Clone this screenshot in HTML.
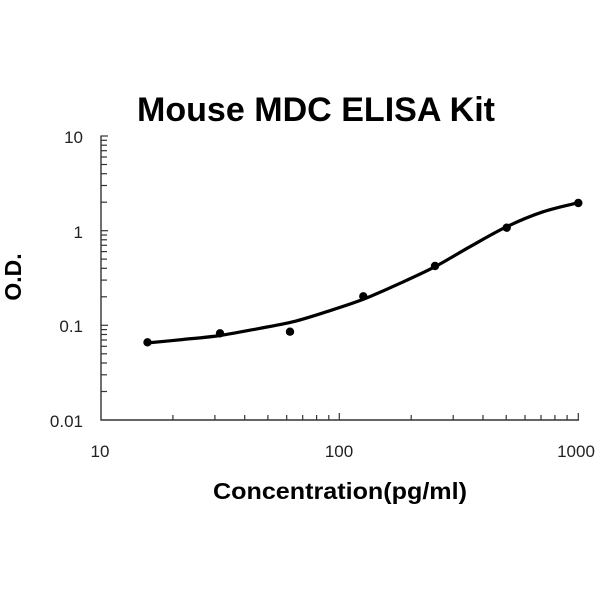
<!DOCTYPE html>
<html>
<head>
<meta charset="utf-8">
<style>
html,body{margin:0;padding:0;background:#fff;}
svg{display:block;}
</style>
</head>
<body>
<svg width="600" height="600" viewBox="0 0 600 600" xmlns="http://www.w3.org/2000/svg">
<rect width="600" height="600" fill="#fff"/>
<text x="316" y="121" font-family="Liberation Sans, Arial, sans-serif" font-weight="bold" font-size="34" text-anchor="middle" textLength="358" lengthAdjust="spacingAndGlyphs" fill="#000">Mouse MDC ELISA Kit</text>

<!-- axes -->
<g stroke="#333" stroke-width="1.4" fill="none">
<line x1="101" y1="135.5" x2="101" y2="420.5"/>
<line x1="100.5" y1="420" x2="579" y2="420"/>
</g>
<!-- y ticks -->
<g stroke="#333" stroke-width="1.2">
<line x1="101" y1="136" x2="108" y2="136"/>
<line x1="101" y1="230.7" x2="108" y2="230.7"/>
<line x1="101" y1="325.3" x2="108" y2="325.3"/>
<line x1="101" y1="202.2" x2="107" y2="202.2"/>
<line x1="101" y1="185.5" x2="107" y2="185.5"/>
<line x1="101" y1="173.7" x2="107" y2="173.7"/>
<line x1="101" y1="164.5" x2="107" y2="164.5"/>
<line x1="101" y1="157.0" x2="107" y2="157.0"/>
<line x1="101" y1="150.7" x2="107" y2="150.7"/>
<line x1="101" y1="145.2" x2="107" y2="145.2"/>
<line x1="101" y1="140.3" x2="107" y2="140.3"/>
<line x1="101" y1="296.8" x2="107" y2="296.8"/>
<line x1="101" y1="280.1" x2="107" y2="280.1"/>
<line x1="101" y1="268.3" x2="107" y2="268.3"/>
<line x1="101" y1="259.1" x2="107" y2="259.1"/>
<line x1="101" y1="251.6" x2="107" y2="251.6"/>
<line x1="101" y1="245.3" x2="107" y2="245.3"/>
<line x1="101" y1="239.8" x2="107" y2="239.8"/>
<line x1="101" y1="235.0" x2="107" y2="235.0"/>
<line x1="101" y1="391.5" x2="107" y2="391.5"/>
<line x1="101" y1="374.8" x2="107" y2="374.8"/>
<line x1="101" y1="363.0" x2="107" y2="363.0"/>
<line x1="101" y1="353.8" x2="107" y2="353.8"/>
<line x1="101" y1="346.3" x2="107" y2="346.3"/>
<line x1="101" y1="340.0" x2="107" y2="340.0"/>
<line x1="101" y1="334.5" x2="107" y2="334.5"/>
<line x1="101" y1="329.6" x2="107" y2="329.6"/>
</g>
<!-- x ticks -->
<g stroke="#333" stroke-width="1.2">
<line x1="339.3" y1="420" x2="339.3" y2="413"/>
<line x1="578.3" y1="420" x2="578.3" y2="413"/>
<line x1="172.9" y1="420" x2="172.9" y2="415"/>
<line x1="214.9" y1="420" x2="214.9" y2="415"/>
<line x1="244.7" y1="420" x2="244.7" y2="415"/>
<line x1="267.9" y1="420" x2="267.9" y2="415"/>
<line x1="286.7" y1="420" x2="286.7" y2="415"/>
<line x1="302.7" y1="420" x2="302.7" y2="415"/>
<line x1="316.6" y1="420" x2="316.6" y2="415"/>
<line x1="328.8" y1="420" x2="328.8" y2="415"/>
<line x1="411.2" y1="420" x2="411.2" y2="415"/>
<line x1="453.2" y1="420" x2="453.2" y2="415"/>
<line x1="483.0" y1="420" x2="483.0" y2="415"/>
<line x1="506.2" y1="420" x2="506.2" y2="415"/>
<line x1="525.0" y1="420" x2="525.0" y2="415"/>
<line x1="541.0" y1="420" x2="541.0" y2="415"/>
<line x1="554.9" y1="420" x2="554.9" y2="415"/>
<line x1="567.1" y1="420" x2="567.1" y2="415"/>
</g>

<!-- tick labels -->
<g font-family="Liberation Sans, Arial, sans-serif" font-size="17" fill="#222">
<text x="83" y="143" text-anchor="end">10</text>
<text x="83" y="238" text-anchor="end">1</text>
<text x="83" y="332" text-anchor="end">0.1</text>
<text x="83" y="427" text-anchor="end">0.01</text>
<text x="100" y="457" text-anchor="middle">10</text>
<text x="339" y="457" text-anchor="middle">100</text>
<text x="576" y="457" text-anchor="middle">1000</text>
</g>

<!-- axis titles -->
<text x="340" y="499" font-family="Liberation Sans, Arial, sans-serif" font-weight="bold" font-size="23" text-anchor="middle" textLength="254" lengthAdjust="spacingAndGlyphs" fill="#000">Concentration(pg/ml)</text>
<text transform="translate(21,277) rotate(-90)" x="0" y="0" font-family="Liberation Sans, Arial, sans-serif" font-weight="bold" font-size="23" text-anchor="middle" fill="#000">O.D.</text>

<!-- curve -->
<path d="M146.7,343 C152.75,342.42 170.78,340.75 183,339.5 C195.22,338.25 207.17,337.37 220,335.5 C232.83,333.63 247.78,330.6 260,328.3 C272.22,326 282.18,324.47 293.3,321.7 C304.42,318.93 315.03,315.43 326.7,311.7 C338.37,307.97 351.08,304.03 363.3,299.3 C375.52,294.57 388.05,288.73 400,283.3 C411.95,277.87 423.33,272.8 435,266.7 C446.67,260.6 458.05,253.37 470,246.7 C481.95,240.03 494.48,232.53 506.7,226.7 C518.92,220.87 531.37,215.7 543.3,211.7 C555.23,207.7 572.47,204.2 578.3,202.7" fill="none" stroke="#000" stroke-width="3.2" stroke-linecap="round" stroke-linejoin="round"/>

<!-- points -->
<g fill="#000">
<circle cx="147.5" cy="342.3" r="4.2"/>
<circle cx="220" cy="333.3" r="4.2"/>
<circle cx="290" cy="331.7" r="4.2"/>
<circle cx="363.3" cy="296.3" r="4.2"/>
<circle cx="435" cy="266" r="4.2"/>
<circle cx="506.7" cy="227.7" r="4.2"/>
<circle cx="578.3" cy="203" r="4.2"/>
</g>
</svg>
</body>
</html>
